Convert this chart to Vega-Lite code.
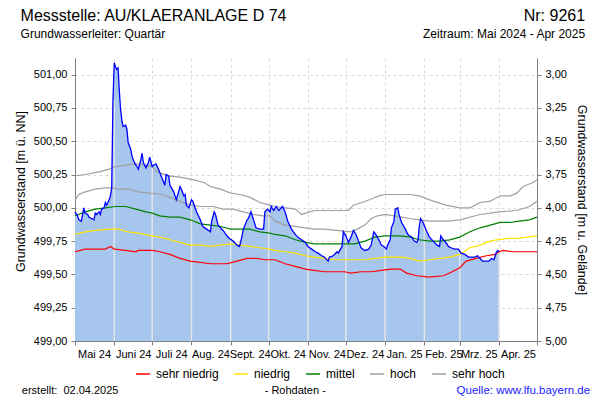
{
  "$schema": "https://vega.github.io/schema/vega-lite/v6.json",
  "width": 462,
  "height": 283,
  "autosize": {"type": "none"},
  "padding": {"left": 75, "top": 58, "right": 63, "bottom": 59},
  "background": "white",
  "config": {
    "view": {"stroke": null},
    "font": "Liberation Sans",
    "axis": {
      "domainColor": "#808080",
      "tickColor": "#808080",
      "labelColor": "#000000",
      "labelFont": "Liberation Sans",
      "labelFontSize": 11,
      "labelOverlap": false,
      "labelBound": false,
      "labelFlush": false,
      "titleFont": "Liberation Sans",
      "titleFontWeight": "normal",
      "titleFontSize": 12.5,
      "titleColor": "#000000",
      "tickSize": 4,
      "gridColor": "#d9d9d9",
      "gridDash": [3, 3]
    }
  },
  "datasets": {
    "gw": [
      {"date": "2024-05-01", "v": 499.97}, {"date": "2024-05-03", "v": 499.94}, {"date": "2024-05-04", "v": 499.91}, {"date": "2024-05-06", "v": 499.90},
      {"date": "2024-05-08", "v": 500.00}, {"date": "2024-05-09", "v": 499.96}, {"date": "2024-05-11", "v": 499.95}, {"date": "2024-05-12", "v": 499.93},
      {"date": "2024-05-14", "v": 499.92}, {"date": "2024-05-16", "v": 499.91}, {"date": "2024-05-17", "v": 499.96}, {"date": "2024-05-18", "v": 499.95},
      {"date": "2024-05-20", "v": 499.97}, {"date": "2024-05-21", "v": 499.95}, {"date": "2024-05-22", "v": 499.99}, {"date": "2024-05-24", "v": 500.00},
      {"date": "2024-05-25", "v": 500.04}, {"date": "2024-05-26", "v": 500.02}, {"date": "2024-05-28", "v": 500.06}, {"date": "2024-05-29", "v": 500.09},
      {"date": "2024-05-30", "v": 500.15}, {"date": "2024-05-31", "v": 500.81}, {"date": "2024-06-01", "v": 501.09}, {"date": "2024-06-02", "v": 501.06},
      {"date": "2024-06-03", "v": 501.04}, {"date": "2024-06-04", "v": 501.05}, {"date": "2024-06-05", "v": 500.88}, {"date": "2024-06-06", "v": 500.74},
      {"date": "2024-06-07", "v": 500.66}, {"date": "2024-06-08", "v": 500.61}, {"date": "2024-06-10", "v": 500.62}, {"date": "2024-06-11", "v": 500.59},
      {"date": "2024-06-12", "v": 500.49}, {"date": "2024-06-14", "v": 500.44}, {"date": "2024-06-15", "v": 500.39}, {"date": "2024-06-16", "v": 500.36},
      {"date": "2024-06-18", "v": 500.32}, {"date": "2024-06-19", "v": 500.31}, {"date": "2024-06-20", "v": 500.29}, {"date": "2024-06-22", "v": 500.36},
      {"date": "2024-06-23", "v": 500.41}, {"date": "2024-06-24", "v": 500.34}, {"date": "2024-06-26", "v": 500.30}, {"date": "2024-06-28", "v": 500.34},
      {"date": "2024-06-29", "v": 500.38}, {"date": "2024-07-01", "v": 500.31}, {"date": "2024-07-02", "v": 500.32}, {"date": "2024-07-04", "v": 500.33},
      {"date": "2024-07-06", "v": 500.29}, {"date": "2024-07-08", "v": 500.24}, {"date": "2024-07-11", "v": 500.17}, {"date": "2024-07-12", "v": 500.25},
      {"date": "2024-07-14", "v": 500.24}, {"date": "2024-07-15", "v": 500.17}, {"date": "2024-07-18", "v": 500.12}, {"date": "2024-07-20", "v": 500.06},
      {"date": "2024-07-23", "v": 500.16}, {"date": "2024-07-24", "v": 500.14}, {"date": "2024-07-26", "v": 500.09}, {"date": "2024-07-27", "v": 500.10},
      {"date": "2024-07-28", "v": 500.02}, {"date": "2024-07-30", "v": 500.00}, {"date": "2024-08-01", "v": 500.06}, {"date": "2024-08-02", "v": 500.05},
      {"date": "2024-08-05", "v": 499.97}, {"date": "2024-08-08", "v": 499.91}, {"date": "2024-08-10", "v": 499.86}, {"date": "2024-08-13", "v": 499.84},
      {"date": "2024-08-16", "v": 499.82}, {"date": "2024-08-17", "v": 499.90}, {"date": "2024-08-19", "v": 499.97}, {"date": "2024-08-20", "v": 499.95},
      {"date": "2024-08-22", "v": 499.87}, {"date": "2024-08-23", "v": 499.86}, {"date": "2024-08-26", "v": 499.83}, {"date": "2024-08-29", "v": 499.79},
      {"date": "2024-08-31", "v": 499.77}, {"date": "2024-09-03", "v": 499.75}, {"date": "2024-09-06", "v": 499.72}, {"date": "2024-09-08", "v": 499.71},
      {"date": "2024-09-10", "v": 499.79}, {"date": "2024-09-11", "v": 499.84}, {"date": "2024-09-14", "v": 499.91}, {"date": "2024-09-15", "v": 499.92},
      {"date": "2024-09-17", "v": 499.97}, {"date": "2024-09-19", "v": 499.91}, {"date": "2024-09-21", "v": 499.85}, {"date": "2024-09-24", "v": 499.84},
      {"date": "2024-09-27", "v": 499.84}, {"date": "2024-09-28", "v": 499.97}, {"date": "2024-09-30", "v": 499.99}, {"date": "2024-10-02", "v": 499.97},
      {"date": "2024-10-03", "v": 500.01}, {"date": "2024-10-05", "v": 499.98}, {"date": "2024-10-07", "v": 500.01}, {"date": "2024-10-09", "v": 499.98},
      {"date": "2024-10-12", "v": 500.01}, {"date": "2024-10-14", "v": 499.97}, {"date": "2024-10-16", "v": 499.90}, {"date": "2024-10-19", "v": 499.84},
      {"date": "2024-10-22", "v": 499.80}, {"date": "2024-10-24", "v": 499.78}, {"date": "2024-10-27", "v": 499.76}, {"date": "2024-10-30", "v": 499.74},
      {"date": "2024-11-01", "v": 499.71}, {"date": "2024-11-04", "v": 499.69}, {"date": "2024-11-07", "v": 499.67}, {"date": "2024-11-09", "v": 499.66},
      {"date": "2024-11-12", "v": 499.64}, {"date": "2024-11-14", "v": 499.63}, {"date": "2024-11-17", "v": 499.60}, {"date": "2024-11-18", "v": 499.63},
      {"date": "2024-11-21", "v": 499.64}, {"date": "2024-11-24", "v": 499.67}, {"date": "2024-11-25", "v": 499.66}, {"date": "2024-11-28", "v": 499.71},
      {"date": "2024-11-29", "v": 499.82}, {"date": "2024-12-01", "v": 499.79}, {"date": "2024-12-03", "v": 499.74}, {"date": "2024-12-05", "v": 499.78},
      {"date": "2024-12-07", "v": 499.83}, {"date": "2024-12-09", "v": 499.80}, {"date": "2024-12-11", "v": 499.75}, {"date": "2024-12-13", "v": 499.70},
      {"date": "2024-12-16", "v": 499.68}, {"date": "2024-12-19", "v": 499.69}, {"date": "2024-12-21", "v": 499.72}, {"date": "2024-12-23", "v": 499.82},
      {"date": "2024-12-24", "v": 499.81}, {"date": "2024-12-27", "v": 499.76}, {"date": "2024-12-29", "v": 499.72}, {"date": "2024-12-31", "v": 499.71},
      {"date": "2025-01-02", "v": 499.69}, {"date": "2025-01-03", "v": 499.72}, {"date": "2025-01-05", "v": 499.76}, {"date": "2025-01-06", "v": 499.85},
      {"date": "2025-01-08", "v": 499.90}, {"date": "2025-01-09", "v": 499.99}, {"date": "2025-01-11", "v": 500.00}, {"date": "2025-01-12", "v": 499.95},
      {"date": "2025-01-14", "v": 499.89}, {"date": "2025-01-17", "v": 499.84}, {"date": "2025-01-19", "v": 499.80}, {"date": "2025-01-22", "v": 499.78},
      {"date": "2025-01-24", "v": 499.75}, {"date": "2025-01-26", "v": 499.74}, {"date": "2025-01-27", "v": 499.76}, {"date": "2025-01-28", "v": 499.86},
      {"date": "2025-01-29", "v": 499.92}, {"date": "2025-01-31", "v": 499.89}, {"date": "2025-02-03", "v": 499.82}, {"date": "2025-02-05", "v": 499.78},
      {"date": "2025-02-08", "v": 499.75}, {"date": "2025-02-11", "v": 499.72}, {"date": "2025-02-13", "v": 499.71}, {"date": "2025-02-14", "v": 499.79},
      {"date": "2025-02-16", "v": 499.76}, {"date": "2025-02-18", "v": 499.74}, {"date": "2025-02-20", "v": 499.71}, {"date": "2025-02-22", "v": 499.70},
      {"date": "2025-02-25", "v": 499.69}, {"date": "2025-02-28", "v": 499.69}, {"date": "2025-03-02", "v": 499.66}, {"date": "2025-03-05", "v": 499.65},
      {"date": "2025-03-08", "v": 499.63}, {"date": "2025-03-10", "v": 499.63}, {"date": "2025-03-13", "v": 499.63}, {"date": "2025-03-15", "v": 499.64},
      {"date": "2025-03-17", "v": 499.62}, {"date": "2025-03-19", "v": 499.60}, {"date": "2025-03-22", "v": 499.60}, {"date": "2025-03-24", "v": 499.60},
      {"date": "2025-03-26", "v": 499.62}, {"date": "2025-03-28", "v": 499.61}, {"date": "2025-03-29", "v": 499.64}, {"date": "2025-03-30", "v": 499.67},
      {"date": "2025-03-31", "v": 499.68}, {"date": "2025-04-01", "v": 499.67}
    ],
    "ref": [
      {"s": "sehr niedrig", "date": "2024-05-01", "v": 499.67}, {"s": "sehr niedrig", "date": "2024-05-09", "v": 499.69}, {"s": "sehr niedrig", "date": "2024-05-25", "v": 499.69},
      {"s": "sehr niedrig", "date": "2024-05-29", "v": 499.71}, {"s": "sehr niedrig", "date": "2024-06-01", "v": 499.69}, {"s": "sehr niedrig", "date": "2024-06-10", "v": 499.68},
      {"s": "sehr niedrig", "date": "2024-06-18", "v": 499.67}, {"s": "sehr niedrig", "date": "2024-06-20", "v": 499.68}, {"s": "sehr niedrig", "date": "2024-07-01", "v": 499.68},
      {"s": "sehr niedrig", "date": "2024-07-07", "v": 499.67}, {"s": "sehr niedrig", "date": "2024-07-15", "v": 499.65}, {"s": "sehr niedrig", "date": "2024-07-23", "v": 499.62},
      {"s": "sehr niedrig", "date": "2024-07-31", "v": 499.60}, {"s": "sehr niedrig", "date": "2024-08-08", "v": 499.59}, {"s": "sehr niedrig", "date": "2024-08-16", "v": 499.58},
      {"s": "sehr niedrig", "date": "2024-08-29", "v": 499.58}, {"s": "sehr niedrig", "date": "2024-09-06", "v": 499.60}, {"s": "sehr niedrig", "date": "2024-09-14", "v": 499.62},
      {"s": "sehr niedrig", "date": "2024-09-21", "v": 499.62}, {"s": "sehr niedrig", "date": "2024-09-29", "v": 499.61}, {"s": "sehr niedrig", "date": "2024-10-06", "v": 499.61},
      {"s": "sehr niedrig", "date": "2024-10-14", "v": 499.58}, {"s": "sehr niedrig", "date": "2024-10-22", "v": 499.56}, {"s": "sehr niedrig", "date": "2024-10-30", "v": 499.54},
      {"s": "sehr niedrig", "date": "2024-11-06", "v": 499.53}, {"s": "sehr niedrig", "date": "2024-11-14", "v": 499.52}, {"s": "sehr niedrig", "date": "2024-11-30", "v": 499.52},
      {"s": "sehr niedrig", "date": "2024-12-05", "v": 499.51}, {"s": "sehr niedrig", "date": "2024-12-13", "v": 499.52}, {"s": "sehr niedrig", "date": "2024-12-21", "v": 499.52},
      {"s": "sehr niedrig", "date": "2024-12-29", "v": 499.53}, {"s": "sehr niedrig", "date": "2025-01-05", "v": 499.54}, {"s": "sehr niedrig", "date": "2025-01-13", "v": 499.54},
      {"s": "sehr niedrig", "date": "2025-01-18", "v": 499.51}, {"s": "sehr niedrig", "date": "2025-01-26", "v": 499.49}, {"s": "sehr niedrig", "date": "2025-02-05", "v": 499.48},
      {"s": "sehr niedrig", "date": "2025-02-16", "v": 499.49}, {"s": "sehr niedrig", "date": "2025-02-21", "v": 499.51}, {"s": "sehr niedrig", "date": "2025-03-01", "v": 499.55},
      {"s": "sehr niedrig", "date": "2025-03-06", "v": 499.60}, {"s": "sehr niedrig", "date": "2025-03-14", "v": 499.62}, {"s": "sehr niedrig", "date": "2025-03-22", "v": 499.64},
      {"s": "sehr niedrig", "date": "2025-03-29", "v": 499.65}, {"s": "sehr niedrig", "date": "2025-04-01", "v": 499.67}, {"s": "sehr niedrig", "date": "2025-04-04", "v": 499.68},
      {"s": "sehr niedrig", "date": "2025-04-12", "v": 499.67}, {"s": "sehr niedrig", "date": "2025-04-23", "v": 499.67}, {"s": "sehr niedrig", "date": "2025-05-01", "v": 499.67},

      {"s": "niedrig", "date": "2024-05-01", "v": 499.80}, {"s": "niedrig", "date": "2024-05-09", "v": 499.82}, {"s": "niedrig", "date": "2024-05-17", "v": 499.83},
      {"s": "niedrig", "date": "2024-05-28", "v": 499.84}, {"s": "niedrig", "date": "2024-06-04", "v": 499.84}, {"s": "niedrig", "date": "2024-06-12", "v": 499.82},
      {"s": "niedrig", "date": "2024-06-20", "v": 499.81}, {"s": "niedrig", "date": "2024-07-01", "v": 499.79}, {"s": "niedrig", "date": "2024-07-07", "v": 499.78},
      {"s": "niedrig", "date": "2024-07-15", "v": 499.76}, {"s": "niedrig", "date": "2024-07-23", "v": 499.74}, {"s": "niedrig", "date": "2024-07-31", "v": 499.72},
      {"s": "niedrig", "date": "2024-08-08", "v": 499.72}, {"s": "niedrig", "date": "2024-08-16", "v": 499.71}, {"s": "niedrig", "date": "2024-08-24", "v": 499.72},
      {"s": "niedrig", "date": "2024-09-01", "v": 499.73}, {"s": "niedrig", "date": "2024-09-08", "v": 499.72}, {"s": "niedrig", "date": "2024-09-16", "v": 499.71},
      {"s": "niedrig", "date": "2024-09-24", "v": 499.70}, {"s": "niedrig", "date": "2024-10-02", "v": 499.69}, {"s": "niedrig", "date": "2024-10-06", "v": 499.68},
      {"s": "niedrig", "date": "2024-10-14", "v": 499.67}, {"s": "niedrig", "date": "2024-10-22", "v": 499.66}, {"s": "niedrig", "date": "2024-10-30", "v": 499.64},
      {"s": "niedrig", "date": "2024-11-06", "v": 499.63}, {"s": "niedrig", "date": "2024-11-14", "v": 499.62}, {"s": "niedrig", "date": "2024-11-22", "v": 499.61},
      {"s": "niedrig", "date": "2024-12-08", "v": 499.61}, {"s": "niedrig", "date": "2024-12-16", "v": 499.61}, {"s": "niedrig", "date": "2024-12-24", "v": 499.62},
      {"s": "niedrig", "date": "2025-01-01", "v": 499.63}, {"s": "niedrig", "date": "2025-01-13", "v": 499.63}, {"s": "niedrig", "date": "2025-01-21", "v": 499.62},
      {"s": "niedrig", "date": "2025-01-28", "v": 499.60}, {"s": "niedrig", "date": "2025-02-05", "v": 499.61}, {"s": "niedrig", "date": "2025-02-13", "v": 499.62},
      {"s": "niedrig", "date": "2025-02-21", "v": 499.63}, {"s": "niedrig", "date": "2025-03-01", "v": 499.65}, {"s": "niedrig", "date": "2025-03-09", "v": 499.70},
      {"s": "niedrig", "date": "2025-03-17", "v": 499.72}, {"s": "niedrig", "date": "2025-03-25", "v": 499.75}, {"s": "niedrig", "date": "2025-03-30", "v": 499.76},
      {"s": "niedrig", "date": "2025-04-08", "v": 499.77}, {"s": "niedrig", "date": "2025-04-16", "v": 499.77}, {"s": "niedrig", "date": "2025-04-23", "v": 499.78},
      {"s": "niedrig", "date": "2025-05-01", "v": 499.79},

      {"s": "mittel", "date": "2024-05-01", "v": 499.94}, {"s": "mittel", "date": "2024-05-09", "v": 499.97}, {"s": "mittel", "date": "2024-05-17", "v": 499.99},
      {"s": "mittel", "date": "2024-05-25", "v": 500.00}, {"s": "mittel", "date": "2024-06-02", "v": 500.01}, {"s": "mittel", "date": "2024-06-10", "v": 500.01},
      {"s": "mittel", "date": "2024-06-18", "v": 499.99}, {"s": "mittel", "date": "2024-06-26", "v": 499.97}, {"s": "mittel", "date": "2024-07-01", "v": 499.96},
      {"s": "mittel", "date": "2024-07-07", "v": 499.94}, {"s": "mittel", "date": "2024-07-15", "v": 499.93}, {"s": "mittel", "date": "2024-07-23", "v": 499.93},
      {"s": "mittel", "date": "2024-07-31", "v": 499.91}, {"s": "mittel", "date": "2024-08-08", "v": 499.88}, {"s": "mittel", "date": "2024-08-16", "v": 499.87},
      {"s": "mittel", "date": "2024-08-24", "v": 499.86}, {"s": "mittel", "date": "2024-09-01", "v": 499.84}, {"s": "mittel", "date": "2024-09-08", "v": 499.84},
      {"s": "mittel", "date": "2024-09-16", "v": 499.84}, {"s": "mittel", "date": "2024-09-24", "v": 499.82}, {"s": "mittel", "date": "2024-10-02", "v": 499.81},
      {"s": "mittel", "date": "2024-10-06", "v": 499.80}, {"s": "mittel", "date": "2024-10-14", "v": 499.79}, {"s": "mittel", "date": "2024-10-22", "v": 499.76},
      {"s": "mittel", "date": "2024-10-30", "v": 499.74}, {"s": "mittel", "date": "2024-11-06", "v": 499.73}, {"s": "mittel", "date": "2024-11-30", "v": 499.73},
      {"s": "mittel", "date": "2024-12-08", "v": 499.73}, {"s": "mittel", "date": "2024-12-16", "v": 499.75}, {"s": "mittel", "date": "2024-12-24", "v": 499.78},
      {"s": "mittel", "date": "2025-01-01", "v": 499.79}, {"s": "mittel", "date": "2025-01-13", "v": 499.79}, {"s": "mittel", "date": "2025-01-21", "v": 499.78},
      {"s": "mittel", "date": "2025-01-28", "v": 499.76}, {"s": "mittel", "date": "2025-02-05", "v": 499.75}, {"s": "mittel", "date": "2025-02-13", "v": 499.75},
      {"s": "mittel", "date": "2025-02-21", "v": 499.76}, {"s": "mittel", "date": "2025-03-01", "v": 499.78}, {"s": "mittel", "date": "2025-03-09", "v": 499.82},
      {"s": "mittel", "date": "2025-03-17", "v": 499.85}, {"s": "mittel", "date": "2025-03-25", "v": 499.87}, {"s": "mittel", "date": "2025-04-02", "v": 499.89},
      {"s": "mittel", "date": "2025-04-10", "v": 499.89}, {"s": "mittel", "date": "2025-04-17", "v": 499.90}, {"s": "mittel", "date": "2025-04-25", "v": 499.91},
      {"s": "mittel", "date": "2025-05-01", "v": 499.93},

      {"s": "hoch", "date": "2024-05-01", "v": 500.06}, {"s": "hoch", "date": "2024-05-04", "v": 500.10}, {"s": "hoch", "date": "2024-05-09", "v": 500.12},
      {"s": "hoch", "date": "2024-05-17", "v": 500.14}, {"s": "hoch", "date": "2024-05-25", "v": 500.15}, {"s": "hoch", "date": "2024-05-30", "v": 500.15},
      {"s": "hoch", "date": "2024-06-04", "v": 500.14}, {"s": "hoch", "date": "2024-06-12", "v": 500.14}, {"s": "hoch", "date": "2024-06-20", "v": 500.12},
      {"s": "hoch", "date": "2024-06-29", "v": 500.11}, {"s": "hoch", "date": "2024-07-09", "v": 500.10}, {"s": "hoch", "date": "2024-07-20", "v": 500.06},
      {"s": "hoch", "date": "2024-07-28", "v": 500.03}, {"s": "hoch", "date": "2024-08-08", "v": 500.01}, {"s": "hoch", "date": "2024-08-18", "v": 500.01},
      {"s": "hoch", "date": "2024-08-26", "v": 499.99}, {"s": "hoch", "date": "2024-09-03", "v": 499.99}, {"s": "hoch", "date": "2024-09-11", "v": 499.97},
      {"s": "hoch", "date": "2024-09-19", "v": 499.95}, {"s": "hoch", "date": "2024-09-27", "v": 499.94}, {"s": "hoch", "date": "2024-10-02", "v": 499.94},
      {"s": "hoch", "date": "2024-10-06", "v": 499.90}, {"s": "hoch", "date": "2024-10-14", "v": 499.87}, {"s": "hoch", "date": "2024-10-22", "v": 499.86},
      {"s": "hoch", "date": "2024-10-30", "v": 499.85}, {"s": "hoch", "date": "2024-11-06", "v": 499.84}, {"s": "hoch", "date": "2024-11-14", "v": 499.84},
      {"s": "hoch", "date": "2024-11-24", "v": 499.83}, {"s": "hoch", "date": "2024-12-05", "v": 499.82}, {"s": "hoch", "date": "2024-12-10", "v": 499.84},
      {"s": "hoch", "date": "2024-12-16", "v": 499.87}, {"s": "hoch", "date": "2024-12-21", "v": 499.92}, {"s": "hoch", "date": "2024-12-26", "v": 499.94},
      {"s": "hoch", "date": "2025-01-01", "v": 499.95}, {"s": "hoch", "date": "2025-01-08", "v": 499.94}, {"s": "hoch", "date": "2025-01-20", "v": 499.92},
      {"s": "hoch", "date": "2025-02-05", "v": 499.90}, {"s": "hoch", "date": "2025-02-20", "v": 499.90}, {"s": "hoch", "date": "2025-03-01", "v": 499.91},
      {"s": "hoch", "date": "2025-03-17", "v": 499.95}, {"s": "hoch", "date": "2025-04-01", "v": 499.97}, {"s": "hoch", "date": "2025-04-15", "v": 499.98},
      {"s": "hoch", "date": "2025-04-25", "v": 500.01}, {"s": "hoch", "date": "2025-05-01", "v": 500.05},

      {"s": "sehr hoch", "date": "2024-05-01", "v": 500.24}, {"s": "sehr hoch", "date": "2024-05-09", "v": 500.25}, {"s": "sehr hoch", "date": "2024-05-20", "v": 500.27},
      {"s": "sehr hoch", "date": "2024-05-28", "v": 500.29}, {"s": "sehr hoch", "date": "2024-06-02", "v": 500.31}, {"s": "sehr hoch", "date": "2024-06-10", "v": 500.32},
      {"s": "sehr hoch", "date": "2024-06-18", "v": 500.33}, {"s": "sehr hoch", "date": "2024-06-26", "v": 500.32}, {"s": "sehr hoch", "date": "2024-07-01", "v": 500.31},
      {"s": "sehr hoch", "date": "2024-07-05", "v": 500.27}, {"s": "sehr hoch", "date": "2024-07-13", "v": 500.24}, {"s": "sehr hoch", "date": "2024-07-23", "v": 500.23},
      {"s": "sehr hoch", "date": "2024-08-03", "v": 500.21}, {"s": "sehr hoch", "date": "2024-08-11", "v": 500.19}, {"s": "sehr hoch", "date": "2024-08-16", "v": 500.16},
      {"s": "sehr hoch", "date": "2024-08-24", "v": 500.14}, {"s": "sehr hoch", "date": "2024-09-01", "v": 500.11}, {"s": "sehr hoch", "date": "2024-09-08", "v": 500.10},
      {"s": "sehr hoch", "date": "2024-09-16", "v": 500.08}, {"s": "sehr hoch", "date": "2024-09-24", "v": 500.04}, {"s": "sehr hoch", "date": "2024-10-02", "v": 500.02},
      {"s": "sehr hoch", "date": "2024-10-06", "v": 500.01}, {"s": "sehr hoch", "date": "2024-10-14", "v": 500.00}, {"s": "sehr hoch", "date": "2024-10-22", "v": 499.99},
      {"s": "sehr hoch", "date": "2024-10-27", "v": 499.95}, {"s": "sehr hoch", "date": "2024-11-02", "v": 499.97}, {"s": "sehr hoch", "date": "2024-11-07", "v": 499.98},
      {"s": "sehr hoch", "date": "2024-12-03", "v": 499.98}, {"s": "sehr hoch", "date": "2024-12-07", "v": 500.02}, {"s": "sehr hoch", "date": "2024-12-14", "v": 500.04},
      {"s": "sehr hoch", "date": "2024-12-22", "v": 500.07}, {"s": "sehr hoch", "date": "2024-12-27", "v": 500.09}, {"s": "sehr hoch", "date": "2025-01-01", "v": 500.10},
      {"s": "sehr hoch", "date": "2025-01-10", "v": 500.10}, {"s": "sehr hoch", "date": "2025-01-21", "v": 500.10}, {"s": "sehr hoch", "date": "2025-01-28", "v": 500.09},
      {"s": "sehr hoch", "date": "2025-02-08", "v": 500.05}, {"s": "sehr hoch", "date": "2025-02-18", "v": 500.02}, {"s": "sehr hoch", "date": "2025-03-01", "v": 500.00},
      {"s": "sehr hoch", "date": "2025-03-09", "v": 500.00}, {"s": "sehr hoch", "date": "2025-03-17", "v": 500.04}, {"s": "sehr hoch", "date": "2025-03-25", "v": 500.05},
      {"s": "sehr hoch", "date": "2025-04-02", "v": 500.09}, {"s": "sehr hoch", "date": "2025-04-10", "v": 500.09}, {"s": "sehr hoch", "date": "2025-04-15", "v": 500.11},
      {"s": "sehr hoch", "date": "2025-04-20", "v": 500.16}, {"s": "sehr hoch", "date": "2025-04-28", "v": 500.19}, {"s": "sehr hoch", "date": "2025-05-01", "v": 500.21}
    ],
    "months": [
      {"date": "2024-06-01", "v": 500.81}, {"date": "2024-07-01", "v": 500.31}, {"date": "2024-08-01", "v": 500.06},
      {"date": "2024-09-01", "v": 499.77}, {"date": "2024-10-01", "v": 499.98}, {"date": "2024-11-01", "v": 499.71},
      {"date": "2024-12-01", "v": 499.79}, {"date": "2025-01-01", "v": 499.71}, {"date": "2025-02-01", "v": 499.85},
      {"date": "2025-03-01", "v": 499.67}, {"date": "2025-04-01", "v": 499.67}
    ]
  },
  "layer": [
    {
      "data": {"name": "gw"},
      "mark": {"type": "area", "color": "#a6c6ee", "opacity": 1},
      "encoding": {
        "x": {
          "field": "date", "type": "temporal",
          "scale": {"type": "utc", "domain": [{"year": 2024, "month": 5, "date": 1, "utc": true}, {"year": 2025, "month": 5, "date": 1, "utc": true}]},
          "axis": {
            "title": null,
            "values": [
              {"year": 2024, "month": 5, "date": 1, "utc": true}, {"year": 2024, "month": 6, "date": 1, "utc": true},
              {"year": 2024, "month": 7, "date": 1, "utc": true}, {"year": 2024, "month": 8, "date": 1, "utc": true},
              {"year": 2024, "month": 9, "date": 1, "utc": true}, {"year": 2024, "month": 10, "date": 1, "utc": true},
              {"year": 2024, "month": 11, "date": 1, "utc": true}, {"year": 2024, "month": 12, "date": 1, "utc": true},
              {"year": 2025, "month": 1, "date": 1, "utc": true}, {"year": 2025, "month": 2, "date": 1, "utc": true},
              {"year": 2025, "month": 3, "date": 1, "utc": true}, {"year": 2025, "month": 4, "date": 1, "utc": true},
              {"year": 2025, "month": 5, "date": 1, "utc": true}
            ],
            "labelExpr": "utcyear(datum.value) == 2025 && utcmonth(datum.value) == 4 ? '' : ['Jan.','Feb.','Mrz.','Apr.','Mai','Juni','Juli','Aug.','Sept.','Okt.','Nov.','Dez.'][utcmonth(datum.value)] + ' ' + utcFormat(datum.value, '%y')",
            "labelOffset": 19,
            "labelAlign": "center",
            "labelOverlap": false,
            "labelPadding": 3,
            "grid": true
          }
        },
        "y": {
          "field": "v", "type": "quantitative",
          "scale": {"domain": [499, 501.125], "nice": false, "zero": false},
          "axis": {
            "orient": "left",
            "title": "Grundwasserstand [m ü. NN]",
            "values": [499, 499.25, 499.5, 499.75, 500, 500.25, 500.5, 500.75, 501],
            "labelExpr": "replace(format(datum.value, '.2f'), '.', ',')",
            "labelOverlap": false,
            "labelPadding": 4,
            "titlePadding": 6,
            "titleY": 133,
            "grid": true
          }
        },
        "y2": {"datum": 499}
      }
    },
    {
      "data": {"name": "months"},
      "mark": {"type": "rule", "color": "#e4e4e4", "strokeWidth": 1.5},
      "encoding": {
        "x": {"field": "date", "type": "temporal", "axis": null},
        "y": {"field": "v", "type": "quantitative", "axis": null},
        "y2": {"datum": 499}
      }
    },
    {
      "data": {"name": "ref"},
      "mark": {"type": "line", "strokeWidth": 1.2},
      "encoding": {
        "x": {"field": "date", "type": "temporal", "axis": null},
        "y": {"field": "v", "type": "quantitative", "axis": null},
        "color": {
          "field": "s", "type": "nominal",
          "scale": {"domain": ["sehr niedrig", "niedrig", "mittel", "hoch", "sehr hoch"], "range": ["#ff0000", "#ffe400", "#008000", "#a0a0a0", "#a0a0a0"]},
          "legend": {
            "title": null,
            "orient": "none",
            "legendX": 60,
            "legendY": 308,
            "direction": "horizontal",
            "symbolType": "stroke",
            "symbolSize": 196,
            "symbolStrokeWidth": 1.5,
            "labelFont": "Liberation Sans",
            "labelFontSize": 12,
            "labelColor": "#000000",
            "labelOffset": 5,
            "columnPadding": 12
          }
        }
      }
    },
    {
      "data": {"name": "gw"},
      "mark": {"type": "line", "color": "#0000ff", "strokeWidth": 1.3},
      "encoding": {
        "x": {"field": "date", "type": "temporal", "axis": null},
        "y": {"field": "v", "type": "quantitative", "axis": null}
      }
    },
    {
      "data": {"values": [{"v": 499}, {"v": 501}]},
      "mark": {"type": "point", "opacity": 0},
      "encoding": {
        "y": {
          "field": "v", "type": "quantitative",
          "axis": {
            "orient": "right",
            "title": "Grundwasserstand [m u. Gelände]",
            "values": [499, 499.25, 499.5, 499.75, 500, 500.25, 500.5, 500.75, 501],
            "labelExpr": "replace(format(504 - datum.value, '.2f'), '.', ',')",
            "labelOverlap": false,
            "labelPadding": 4,
            "titlePadding": 8,
            "grid": false
          }
        }
      }
    },
    {
      "data": {"values": [{"date": "2024-03-19", "v": 501.40, "t": "Messstelle: AU/KLAERANLAGE D 74"}]},
      "mark": {"type": "text", "align": "left", "baseline": "alphabetic", "fontSize": 16, "font": "Liberation Sans", "color": "#000000"},
      "encoding": {"x": {"field": "date", "type": "temporal", "axis": null}, "y": {"field": "v", "type": "quantitative", "axis": null}, "text": {"field": "t", "type": "nominal"}}
    },
    {
      "data": {"values": [{"date": "2025-06-08", "v": 501.40, "t": "Nr: 9261"}]},
      "mark": {"type": "text", "align": "right", "baseline": "alphabetic", "fontSize": 16, "font": "Liberation Sans", "color": "#000000"},
      "encoding": {"x": {"field": "date", "type": "temporal", "axis": null}, "y": {"field": "v", "type": "quantitative", "axis": null}, "text": {"field": "t", "type": "nominal"}}
    },
    {
      "data": {"values": [{"date": "2024-03-19", "v": 501.275, "t": "Grundwasserleiter: Quartär"}]},
      "mark": {"type": "text", "align": "left", "baseline": "alphabetic", "fontSize": 12, "font": "Liberation Sans", "color": "#000000"},
      "encoding": {"x": {"field": "date", "type": "temporal", "axis": null}, "y": {"field": "v", "type": "quantitative", "axis": null}, "text": {"field": "t", "type": "nominal"}}
    },
    {
      "data": {"values": [{"date": "2025-06-08", "v": 501.275, "t": "Zeitraum: Mai 2024 - Apr 2025"}]},
      "mark": {"type": "text", "align": "right", "baseline": "alphabetic", "fontSize": 12, "font": "Liberation Sans", "color": "#000000"},
      "encoding": {"x": {"field": "date", "type": "temporal", "axis": null}, "y": {"field": "v", "type": "quantitative", "axis": null}, "text": {"field": "t", "type": "nominal"}}
    },
    {
      "data": {"values": [{"date": "2024-03-20", "v": 498.60, "t": "erstellt:\u00a0 02.04.2025"}]},
      "mark": {"type": "text", "align": "left", "baseline": "alphabetic", "fontSize": 11, "font": "Liberation Sans", "color": "#000000"},
      "encoding": {"x": {"field": "date", "type": "temporal", "axis": null}, "y": {"field": "v", "type": "quantitative", "axis": null}, "text": {"field": "t", "type": "nominal"}}
    },
    {
      "data": {"values": [{"date": "2024-10-22", "v": 498.60, "t": "- Rohdaten -"}]},
      "mark": {"type": "text", "align": "center", "baseline": "alphabetic", "fontSize": 11, "font": "Liberation Sans", "color": "#000000"},
      "encoding": {"x": {"field": "date", "type": "temporal", "axis": null}, "y": {"field": "v", "type": "quantitative", "axis": null}, "text": {"field": "t", "type": "nominal"}}
    },
    {
      "data": {"values": [{"date": "2025-06-12", "v": 498.60, "t": "Quelle: www.lfu.bayern.de"}]},
      "mark": {"type": "text", "align": "right", "baseline": "alphabetic", "fontSize": 11.5, "font": "Liberation Sans", "color": "#1a1aff"},
      "encoding": {"x": {"field": "date", "type": "temporal", "axis": null}, "y": {"field": "v", "type": "quantitative", "axis": null}, "text": {"field": "t", "type": "nominal"}}
    }
  ],
  "resolve": {"axis": {"x": "independent", "y": "independent"}}
}
